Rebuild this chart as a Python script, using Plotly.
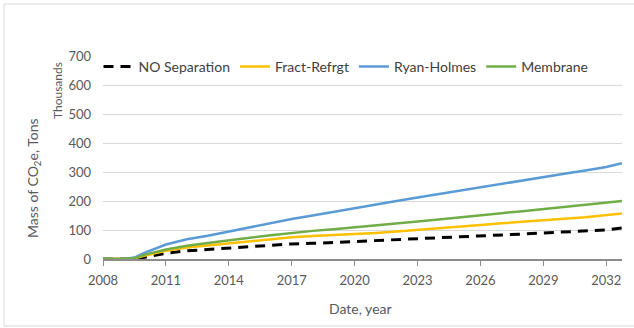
import plotly.graph_objects as go

# Cumulative CO2e emissions (thousand tons) by separation process
years = [2008, 2009, 2009.5, 2010, 2011, 2012, 2013, 2014, 2015, 2016, 2017, 2018, 2019,
         2020, 2021, 2022, 2023, 2024, 2025, 2026, 2027, 2028, 2029, 2030, 2031, 2032, 2032.75]
no_separation = [0, 0, 0, 6, 20, 28, 33, 38, 44, 48, 52, 54, 57,
                 60, 63, 67, 70, 73, 76, 79, 83, 86, 90, 93, 96, 100, 107]
fract_refrgt = [0, 0, 2, 12, 28, 40, 47, 53, 61, 68, 75, 79, 82,
                86, 90, 95, 100, 105, 111, 117, 123, 129, 134, 139, 144, 150, 157]
ryan_holmes = [0, 0, 5, 22, 50, 68, 80, 95, 110, 124, 138, 150, 163,
               175, 188, 200, 212, 224, 236, 248, 260, 271, 282, 294, 305, 317, 330]
membrane = [0, 0, 3, 15, 33, 46, 55, 63, 73, 82, 90, 97, 103,
            109, 116, 122, 129, 136, 144, 151, 158, 165, 172, 179, 186, 193, 200]

x_ticks = [2008, 2011, 2014, 2017, 2020, 2023, 2026, 2029, 2032]
y_ticks = [0, 100, 200, 300, 400, 500, 600, 700]

FONT = "Lato"
GREY = "#595959"

series = [
    ("NO Separation", no_separation, "#000000", "dash"),
    ("Fract-Refrgt", fract_refrgt, "#FFC000", "solid"),
    ("Ryan-Holmes", ryan_holmes, "#5B9BD5", "solid"),
    ("Membrane", membrane, "#70AD47", "solid"),
]

fig = go.Figure()
for name, vals, color, dash in series:
    fig.add_trace(go.Scatter(
        x=years, y=vals, name=name, mode="lines",
        line=dict(color=color, width=3 if dash == "dash" else 2.5,
                  dash="10px,7px" if dash == "dash" else "solid"),
    ))

# plot area spans x 103..622 px, y 56..259 px
W, H0, H1 = 519, 259, 203

fig.update_layout(
    width=634, height=328,
    margin=dict(l=103, r=12, t=56, b=69),
    paper_bgcolor="white", plot_bgcolor="white",
    font=dict(family=FONT, size=13, color=GREY),
    showlegend=True,
    legend=dict(
        orientation="h", x=(346 - 103) / W, xanchor="center", y=(H0 - 67) / H1, yanchor="middle",
        bgcolor="rgba(255,255,255,0)", font=dict(family=FONT, size=14, color="#404040"),
        itemwidth=30, tracegroupgap=0,
    ),
    xaxis=dict(
        range=[2008, 2032.75], tickvals=x_ticks, showgrid=False,
        showline=True, linecolor="#8c8c8c", linewidth=1.5,
        ticks="outside", ticklen=5, tickcolor="#8c8c8c", ticklabelstandoff=4,
        tickfont=dict(family=FONT, size=13, color=GREY),
        zeroline=False,
    ),
    yaxis=dict(
        range=[0, 700], tickvals=y_ticks, showgrid=True, gridcolor="#d9d9d9", gridwidth=1,
        showline=False, zeroline=False, ticks="", ticklabelstandoff=11,
        tickfont=dict(family=FONT, size=13, color=GREY),
    ),
    annotations=[
        dict(text="Mass of CO<sub>2</sub>e, Tons", xref="paper", yref="paper",
             x=(33 - 103) / W, y=(H0 - 178) / H1, textangle=-90, showarrow=False,
             xanchor="center", yanchor="middle", font=dict(family=FONT, size=14, color=GREY)),
        dict(text="Thousands", xref="paper", yref="paper",
             x=(57 - 103) / W, y=(H0 - 91) / H1, textangle=-90, showarrow=False,
             xanchor="center", yanchor="middle", font=dict(family=FONT, size=12, color=GREY)),
        dict(text="Date, year", xref="paper", yref="paper",
             x=(360 - 103) / W, y=(H0 - 308) / H1, showarrow=False,
             xanchor="center", yanchor="middle", font=dict(family=FONT, size=14, color=GREY)),
    ],
    shapes=[
        dict(type="rect", xref="paper", yref="paper",
             x0=(4 - 103) / W, x1=(640 - 103) / W,
             y0=(H0 - 326) / H1, y1=(H0 - 4) / H1,
             line=dict(color="#d9d9d9", width=1), fillcolor="rgba(0,0,0,0)", layer="below"),
    ],
)

fig.write_html("out.html")
